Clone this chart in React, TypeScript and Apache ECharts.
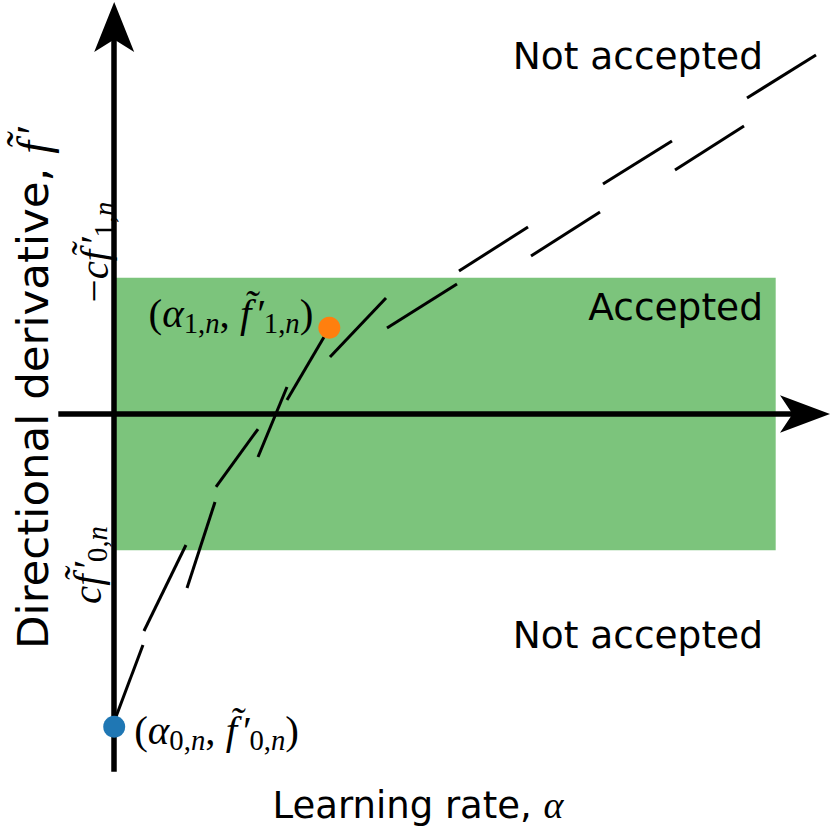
import React, { useEffect, useRef } from "react";
import * as echarts from "echarts";

// ---- data (alpha = learning rate, fp = directional derivative) ----
const bandAlpha = [0, 10];
const bandFp = [-4.36, 4.36]; // c f'0,n  ..  -c f'1,n
const startPoint = [0, -10]; // (alpha0, f'0)
const trialPoint = [3.252, 2.76]; // (alpha1, f'1)
// visible dashes of the two interleaved dashed curves: [a0, f0, a1, f1]
const dashesA = [
  [0.02, -9.72, 0.435, -7.387],
  [1.101, -5.564, 1.524, -2.814],
  [2.174, -1.375, 2.612, 0.863],
  [3.262, 1.823, 4.109, 3.71],
  [5.212, 4.573, 6.256, 5.98],
  [7.389, 7.355, 8.432, 8.73],
  [9.566, 10.106, 10.609, 11.481],
];
const dashesB = [
  [0.45, -6.94, 1.085, -4.189],
  [1.539, -2.334, 2.174, -0.48],
  [2.612, 0.448, 3.172, 2.462],
  [4.124, 2.75, 5.182, 4.157],
  [6.301, 5.053, 7.344, 6.46],
  [8.478, 7.803, 9.521, 9.21],
];
const regionLabels = ["Not accepted", "Accepted", "Not accepted"];
const FP = "f\u0303\u200A\u2032"; // f-tilde prime
const xTitle = "{t|Learning rate, }{i|α}";
const yTitle = `{t|Directional derivative, }{i|${FP}}`;
const tickLabels = [
  `{i|c${FP}}{sub|0,}{subi|n}`, // at bandFp[0]
  `{r|−}{i|c${FP}}{sub|1,}{subi|n}`, // at bandFp[1]
];
const pointLabels = [
  `{r|(}{i|α}{sub|0,}{subi|n}{r|, }{i|${FP}}{sub|0,}{subi|n}{r|)}`,
  `{r|(}{i|α}{sub|1,}{subi|n}{r|, }{i|${FP}}{sub|1,}{subi|n}{r|)}`,
];

const SERIF = "'Liberation Serif', 'DejaVu Serif', serif";
const SANS = "'DejaVu Sans', sans-serif";

function mathRich(size: number, textSize: number = 37) {
  return {
    t: { fontFamily: SANS, fontSize: textSize, color: "#000" },
    r: { fontFamily: SERIF, fontSize: size, color: "#000" },
    i: { fontFamily: SERIF, fontStyle: "italic", fontSize: size, color: "#000" },
    sub: {
      fontFamily: SERIF,
      fontSize: size * 0.7,
      color: "#000",
      padding: [size * 0.5, 0, 0, 0],
    },
    subi: {
      fontFamily: SERIF,
      fontStyle: "italic",
      fontSize: size * 0.7,
      color: "#000",
      padding: [size * 0.5, 0, 0, 0],
    },
  };
}

export default function App() {
  const ref = useRef<HTMLDivElement>(null);
  useEffect(() => {
    if (!ref.current) return;
    const chart = echarts.init(ref.current, undefined, { renderer: "svg" });
    const toSeg = (d: number[]) => ({ coords: [[d[0], d[1]], [d[2], d[3]]] });
    const axisLine = (w: number) => ({
      show: true,
      onZero: true,
      symbol: ["none", "arrow"],
      symbolSize: [w, 50],
      symbolOffset: [0, 25],
      lineStyle: { color: "#000", width: 5.5, cap: "butt" },
    });
    const regionText = (i: number, y: number) => ({
      type: "text",
      x: 763,
      y,
      z: 100,
      style: {
        text: regionLabels[i],
        font: `37.5px ${SANS}`,
        fill: "#000",
        align: "right",
        verticalAlign: "middle",
      },
    });
    chart.setOption({
      animation: false,
      grid: { left: 58.3, right: 25, top: 27, bottom: 58.3, containLabel: false },
      xAxis: {
        type: "value",
        min: -0.845,
        max: 10.443,
        z: 5,
        axisLine: axisLine(28),
        axisTick: { show: false },
        axisLabel: { show: false },
        splitLine: { show: false },
      },
      yAxis: {
        type: "value",
        min: -11.439,
        max: 12.376,
        z: 5,
        axisLine: axisLine(30),
        axisTick: { show: false },
        axisLabel: { show: false },
        splitLine: { show: false },
      },
      series: [
        {
          type: "custom",
          z: 1,
          silent: true,
          data: [[bandAlpha[0], bandFp[0], bandAlpha[1], bandFp[1]]],
          renderItem: (params: any, api: any) => {
            const p0 = api.coord([api.value(0), api.value(3)]);
            const p1 = api.coord([api.value(2), api.value(1)]);
            return {
              type: "rect",
              shape: { x: p0[0], y: p0[1], width: p1[0] - p0[0], height: p1[1] - p0[1] },
              style: { fill: "#7CC47C" },
            };
          },
        },
        {
          type: "lines",
          coordinateSystem: "cartesian2d",
          z: 3,
          clip: false,
          silent: true,
          lineStyle: { color: "#000", width: 3, opacity: 1, cap: "butt" },
          data: dashesA.map(toSeg),
        },
        {
          type: "lines",
          coordinateSystem: "cartesian2d",
          z: 3,
          clip: false,
          silent: true,
          lineStyle: { color: "#000", width: 3, opacity: 1, cap: "butt" },
          data: dashesB.map(toSeg),
        },
        {
          type: "scatter",
          z: 10,
          symbolSize: 22,
          silent: true,
          clip: false,
          itemStyle: { opacity: 1 },
          data: [
            {
              value: startPoint,
              itemStyle: { color: "#1f77b4", opacity: 1 },
              label: {
                show: true,
                position: "right",
                distance: 9,
                offset: [0, 3],
                formatter: pointLabels[0],
                rich: mathRich(41),
              },
            },
            {
              value: trialPoint,
              itemStyle: { color: "#ff7f0e", opacity: 1 },
              label: {
                show: true,
                position: "left",
                distance: 5,
                offset: [0, -15],
                formatter: pointLabels[1],
                rich: mathRich(41),
              },
            },
          ],
        },
      ],
      graphic: [
        regionText(0, 56),
        regionText(1, 307),
        regionText(2, 635),
        {
          type: "text",
          x: 418,
          y: 805,
          z: 100,
          style: { text: xTitle, rich: mathRich(38, 37), align: "center", verticalAlign: "middle" },
        },
        {
          type: "text",
          x: 33,
          y: 388,
          rotation: Math.PI / 2,
          z: 100,
          style: { text: yTitle, rich: mathRich(46, 43.5), align: "center", verticalAlign: "middle" },
        },
        {
          type: "text",
          x: 87,
          y: 565,
          rotation: Math.PI / 2,
          z: 100,
          style: { text: tickLabels[0], rich: mathRich(41), align: "center", verticalAlign: "middle" },
        },
        {
          type: "text",
          x: 94,
          y: 252,
          rotation: Math.PI / 2,
          z: 100,
          style: { text: tickLabels[1], rich: mathRich(41), align: "center", verticalAlign: "middle" },
        },
      ],
    });
    return () => chart.dispose();
  }, []);
  return (
    <div
      ref={ref}
      style={{ position: "absolute", left: 0, top: 0, width: 830, height: 830 }}
    />
  );
}
